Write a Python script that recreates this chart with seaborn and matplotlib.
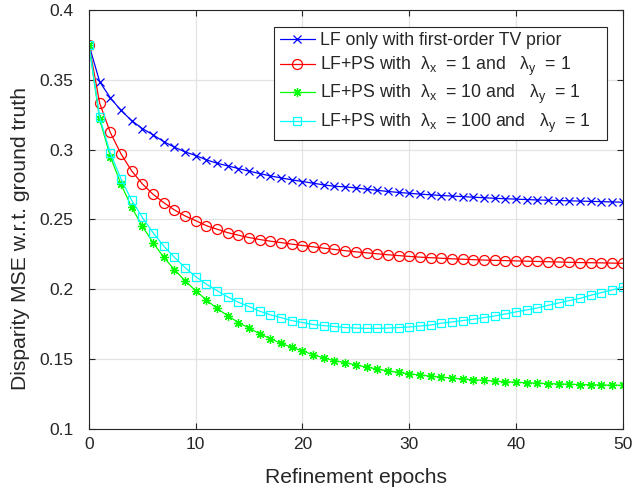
import numpy as np
import pandas as pd
import matplotlib
matplotlib.use('Agg')
import matplotlib.pyplot as plt
import seaborn as sns

sns.set_style('whitegrid')
plt.rcParams['font.family'] = ['Liberation Sans', 'DejaVu Sans']
plt.rcParams['mathtext.fontset'] = 'custom'
plt.rcParams['mathtext.rm'] = 'Liberation Sans'
plt.rcParams['mathtext.it'] = 'Liberation Sans'

epochs = list(range(51))

# LF only with first-order TV prior
lf_tv = [0.375, 0.3486, 0.337, 0.328, 0.3207, 0.315, 0.3105, 0.3057, 0.3017, 0.2983,
         0.2957, 0.2926, 0.2902, 0.2883, 0.2864, 0.2845, 0.2828, 0.2811, 0.2797, 0.2783,
         0.2771, 0.2759, 0.2747, 0.2737, 0.2733, 0.2725, 0.2716, 0.2708, 0.2700, 0.2693,
         0.2687, 0.2681, 0.2676, 0.2671, 0.2667, 0.2663, 0.2659, 0.2655, 0.2651, 0.2648,
         0.2645, 0.2642, 0.2639, 0.2637, 0.2635, 0.2633, 0.2631, 0.2629, 0.2627, 0.2625,
         0.2623]

# lambda_x = 1
ps_1 = [0.375, 0.3332, 0.3122, 0.2969, 0.2847, 0.2754, 0.268, 0.262, 0.2568, 0.2525,
        0.2491, 0.2455, 0.243, 0.2405, 0.2387, 0.237, 0.2356, 0.2344, 0.2334, 0.2323,
        0.2313, 0.2304, 0.2294, 0.2285, 0.2276, 0.2268, 0.2261, 0.2254, 0.2247, 0.2241,
        0.2235, 0.2230, 0.2226, 0.2222, 0.2218, 0.2215, 0.2212, 0.2209, 0.2207, 0.2205,
        0.2203, 0.2201, 0.2199, 0.2197, 0.2195, 0.2193, 0.2191, 0.2190, 0.2189, 0.2187,
        0.2186]

# lambda_x = 10
ps_10 = [0.375, 0.3217, 0.295, 0.2752, 0.2587, 0.2451, 0.2334, 0.2229, 0.2141, 0.206,
         0.199, 0.1923, 0.1863, 0.181, 0.1762, 0.1722, 0.1681, 0.1647, 0.1612, 0.1585,
         0.1558, 0.1532, 0.1508, 0.1489, 0.1475, 0.1458, 0.1443, 0.1429, 0.1416, 0.1405,
         0.1395, 0.1386, 0.1378, 0.1371, 0.1364, 0.1358, 0.1353, 0.1348, 0.1343, 0.1338,
         0.1334, 0.1331, 0.1328, 0.1325, 0.1322, 0.1320, 0.1318, 0.1316, 0.1315, 0.1314,
         0.1313]

# lambda_x = 100
ps_100 = [0.375, 0.3232, 0.2974, 0.279, 0.2637, 0.2514, 0.2405, 0.231, 0.2229, 0.2155,
          0.209, 0.2036, 0.199, 0.1945, 0.1907, 0.1876, 0.1843, 0.1817, 0.1797, 0.1776,
          0.1762, 0.1748, 0.174, 0.1733, 0.1726, 0.1722, 0.172, 0.172, 0.1722, 0.1726,
          0.1730, 0.1737, 0.1744, 0.1757, 0.1766, 0.1776, 0.1785, 0.1797, 0.1809, 0.1823,
          0.1838, 0.1852, 0.1866, 0.1885, 0.1902, 0.1919, 0.1935, 0.1957, 0.1976, 0.1995,
          0.2017]

labels = ['LF only with first-order TV prior',
          r'LF+PS with  $\lambda_\mathrm{x}$  = 1 and   $\lambda_\mathrm{y}$  = 1',
          r'LF+PS with  $\lambda_\mathrm{x}$  = 10 and   $\lambda_\mathrm{y}$  = 1',
          r'LF+PS with  $\lambda_\mathrm{x}$  = 100 and   $\lambda_\mathrm{y}$  = 1   ']
ytick_labels = ['0.1', '0.15', '0.2', '0.25', '0.3', '0.35', '0.4']
xticks = [0, 10, 20, 30, 40, 50]

series = [lf_tv, ps_1, ps_10, ps_100]
colors = ['#0000ff', '#ff0000', '#00ff00', '#00ffff']
markers = ['x', 'o', (8, 2, 0), 's']
msizes = [5.5, 7.2, 6.5, 5.5]

fig = plt.figure(figsize=(6.4, 4.9), dpi=100)
ax = fig.add_axes([0.139, 0.1245, 0.834, 0.8555])

for vals, lab, c, m, ms in zip(series, labels, colors, markers, msizes):
    sns.lineplot(x=epochs, y=vals, ax=ax, color=c, marker=m, markersize=ms,
                 mfc='none', mec=c, mew=0.9, linewidth=0.9, label=lab)

ax.set_xlim(0, 50)
ax.set_ylim(0.1, 0.4)
ax.set_xticks(xticks)
ax.set_xticklabels([str(t) for t in xticks])
ax.set_yticks([float(t) for t in ytick_labels])
ax.set_yticklabels(ytick_labels)
ax.tick_params(labelsize=12.5, colors='#262626', direction='in', length=4,
               top=True, right=True, bottom=True, left=True)
ax.tick_params(axis='y', pad=11)
ax.tick_params(axis='x', pad=6)
ax.grid(True, color='#e3e3e3', linewidth=0.9)
for s in ax.spines.values():
    s.set_color('#262626')
    s.set_linewidth(0.8)
ax.set_xlabel('Refinement epochs', fontsize=15.2, color='#262626', labelpad=11)
ax.set_ylabel('Disparity MSE w.r.t. ground truth', fontsize=15.2, color='#262626')
ax.yaxis.set_label_coords(-0.11, 0.455)

leg = ax.legend(loc='upper right', bbox_to_anchor=(0.970, 0.959), borderaxespad=0,
                fontsize=12.7, frameon=True, fancybox=False, framealpha=1,
                edgecolor='#262626', handlelength=2.0, handletextpad=0.3,
                labelspacing=0.3, borderpad=0.3)
leg.get_frame().set_linewidth(0.8)

fig.savefig('out.png', dpi=100)
